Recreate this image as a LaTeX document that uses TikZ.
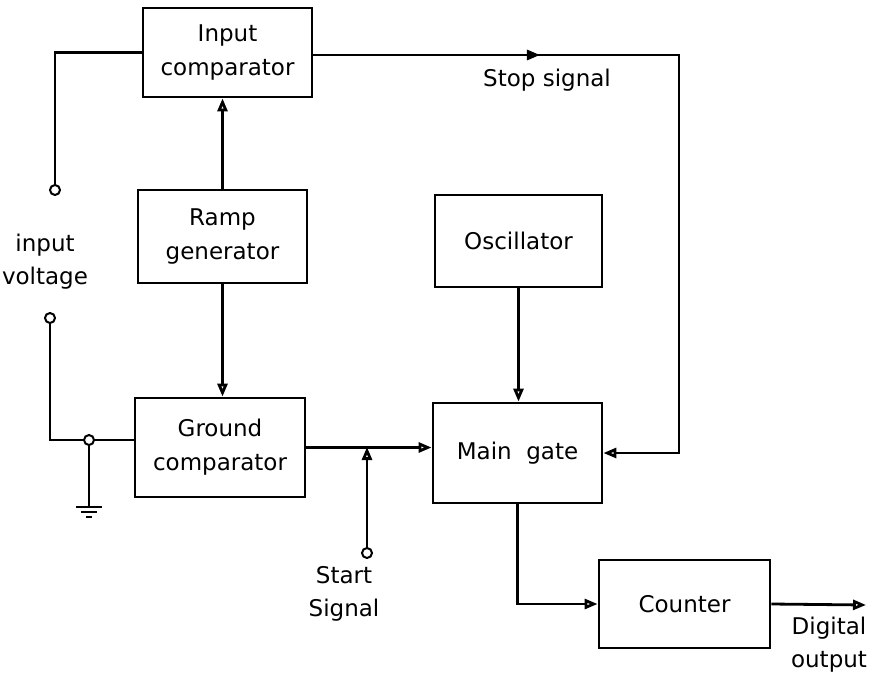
\documentclass[tikz,border=0pt]{standalone}
\usepackage{fontspec}
\setmainfont{DejaVu Sans}
\usetikzlibrary{arrows.meta,decorations.markings}
\tikzset{every picture/.style={line width=2.8pt}}
\tikzset{
  block/.style={draw, minimum width=169pt, minimum height=92pt, align=center, inner sep=0pt, font=\fontsize{23}{34}\selectfont},
  lbl/.style={align=center, font=\fontsize{23}{33}\selectfont},
  term/.style={circle, draw, fill=white, inner sep=0pt, minimum size=10pt, line width=2pt},
  flow/.style={-{Triangle[open,length=13pt,width=10pt]}},
  midflow/.style={postaction={decorate}, decoration={markings, mark=at position #1 with {\arrow{Triangle[open,length=13pt,width=10pt]}}}}
}

\begin{document}
\begin{tikzpicture}[x=1pt,y=-1pt]
    \useasboundingbox (0,0) rectangle (874,677);

    % Blocks
    \node[block, minimum height=89pt] (inpcomp) at (227.5,52.5) {Input\\comparator};
    \node[block, minimum height=93pt] (ramp) at (222.5,236.5) {Ramp\\generator};
    \node[block, minimum width=170pt, minimum height=99pt] (gndcomp) at (220,447.5) {Ground\\comparator};
    \node[block, minimum width=167pt] (osc) at (518.5,241) {Oscillator};
    \node[block, minimum height=100pt] (maingate) at (517.5,453) {Main\ \ gate};
    \node[block, minimum width=171pt, minimum height=88pt] (counter) at (684.5,604) {Counter};

    % Terminals and junctions
    \node[term] (tin1) at (55,190) {};
    \node[term] (tin2) at (50,318) {};
    \node[term] (jg) at (89,440) {};
    \node[term] (tst) at (367,553) {};
    \coordinate (js) at (367,447);
    \coordinate (cstop) at (679,55);
    \coordinate (gnd) at (89,507);
    \coordinate (dout) at (866,605);

    % Labels
    \node[lbl] (linput) at (45,262) {input\\voltage};
    \node[lbl] (lstart) at (344,594) {Start\\Signal};
    \node[lbl] (lstop) at (547,80) {Stop signal};
    \node[lbl] (ldigital) at (829,645) {Digital\\output};

    % Input voltage side
    \draw (inpcomp.west) -| (tin1);
    \draw (tin2) |- (jg);
    \draw (jg) -- (jg -| gndcomp.west);

    % Ground
    \draw (jg) -- (gnd);
    \draw (gnd) ++(-13,0) -- ++(26,0);
    \draw (gnd) ++(-8,5) -- ++(16,0);
    \draw (gnd) ++(-3,10) -- ++(6,0);

    % Signal flow
    \draw[flow] (ramp.north) -- (ramp.north |- inpcomp.south);
    \draw[flow] (ramp.south) -- (ramp.south |- gndcomp.north);
    \draw[flow] (gndcomp.east) -- (gndcomp.east -| maingate.west);
    \draw[flow] (tst) -- (js);
    \draw[flow] (osc.south) -- (osc.south |- maingate.north);
    \draw[flow, midflow=0.27] (inpcomp.east |- cstop) -- (cstop) |- (maingate.east);
    \draw[flow] (maingate.south) |- (counter.west);
    \draw[flow] (counter.east) -- (dout);
\end{tikzpicture}
\end{document}
